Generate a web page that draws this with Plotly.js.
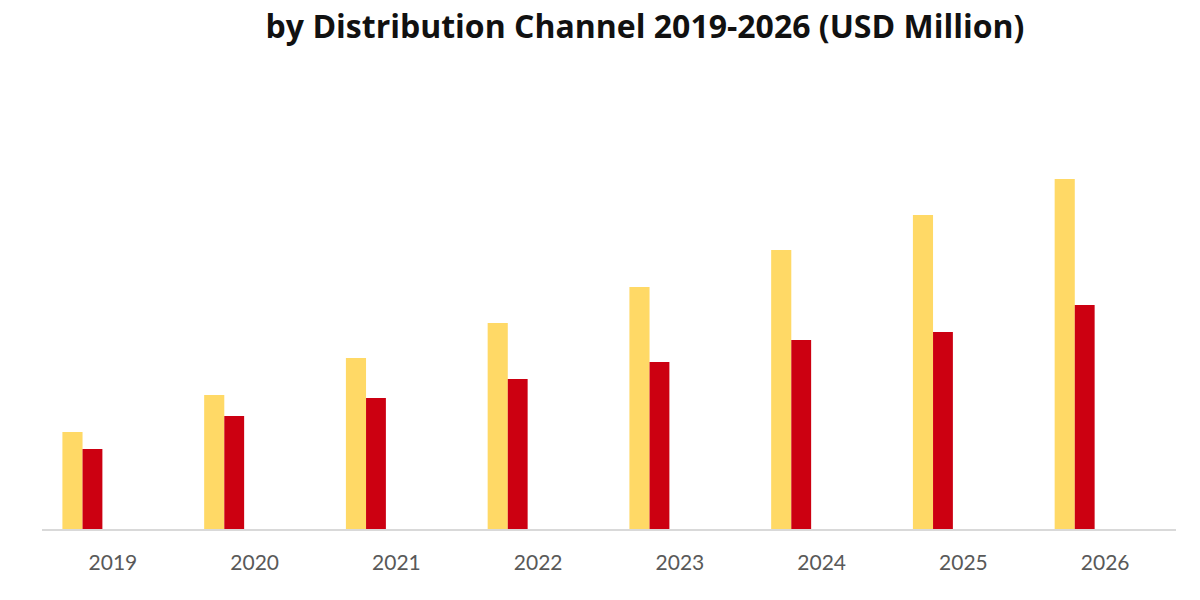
<!DOCTYPE html>
<html>
<head>
<meta charset="utf-8">
<script src="https://cdn.plot.ly/plotly-3.0.1.min.js"></script>
<style>html,body{margin:0;padding:0;background:#fff;}#chart{width:1200px;height:600px;}</style>
</head>
<body>
<div id="chart"></div>
<script>
// Data (relative units)
const years = ['2019', '2020', '2021', '2022', '2023', '2024', '2025', '2026'];
const seriesA = [97, 134, 171, 206, 242, 279, 314, 350];
const seriesB = [80, 113, 131, 150, 167, 189, 197, 224];
const titleText = '<b>by Distribution Channel 2019-2026 (USD Million)</b>';

const traces = [
  { type: 'bar', x: years, y: seriesA, name: 'Series A',
    marker: { color: '#FFD966' }, width: 0.142, offset: -0.356 },
  { type: 'bar', x: years, y: seriesB, name: 'Series B',
    marker: { color: '#CC0011' }, width: 0.140, offset: -0.214 }
];

const layout = {
  width: 1200, height: 600,
  margin: { l: 42, r: 24, t: 129, b: 71 },
  paper_bgcolor: '#ffffff', plot_bgcolor: '#ffffff',
  showlegend: false,
  barmode: 'overlay',
  title: {
    text: titleText,
    font: { family: '"Open Sans", Lato, sans-serif', size: 32, color: '#111111' },
    x: 645 / 1200, xref: 'container', xanchor: 'center',
    y: 1 - 27 / 600, yref: 'container', yanchor: 'middle'
  },
  xaxis: {
    type: 'category',
    range: [-0.5, 7.5],
    showgrid: false, zeroline: false,
    showline: true, linecolor: '#d9d9d9', linewidth: 1.5,
    ticks: '', ticklabelstandoff: 14,
    tickfont: { family: 'Lato, "Open Sans", sans-serif', size: 21, color: '#595959' },
    fixedrange: true
  },
  yaxis: {
    range: [0, 400],
    visible: false, showgrid: false, zeroline: false,
    fixedrange: true
  }
};

Plotly.newPlot('chart', traces, layout, { displayModeBar: false, staticPlot: true });
</script>
</body>
</html>
